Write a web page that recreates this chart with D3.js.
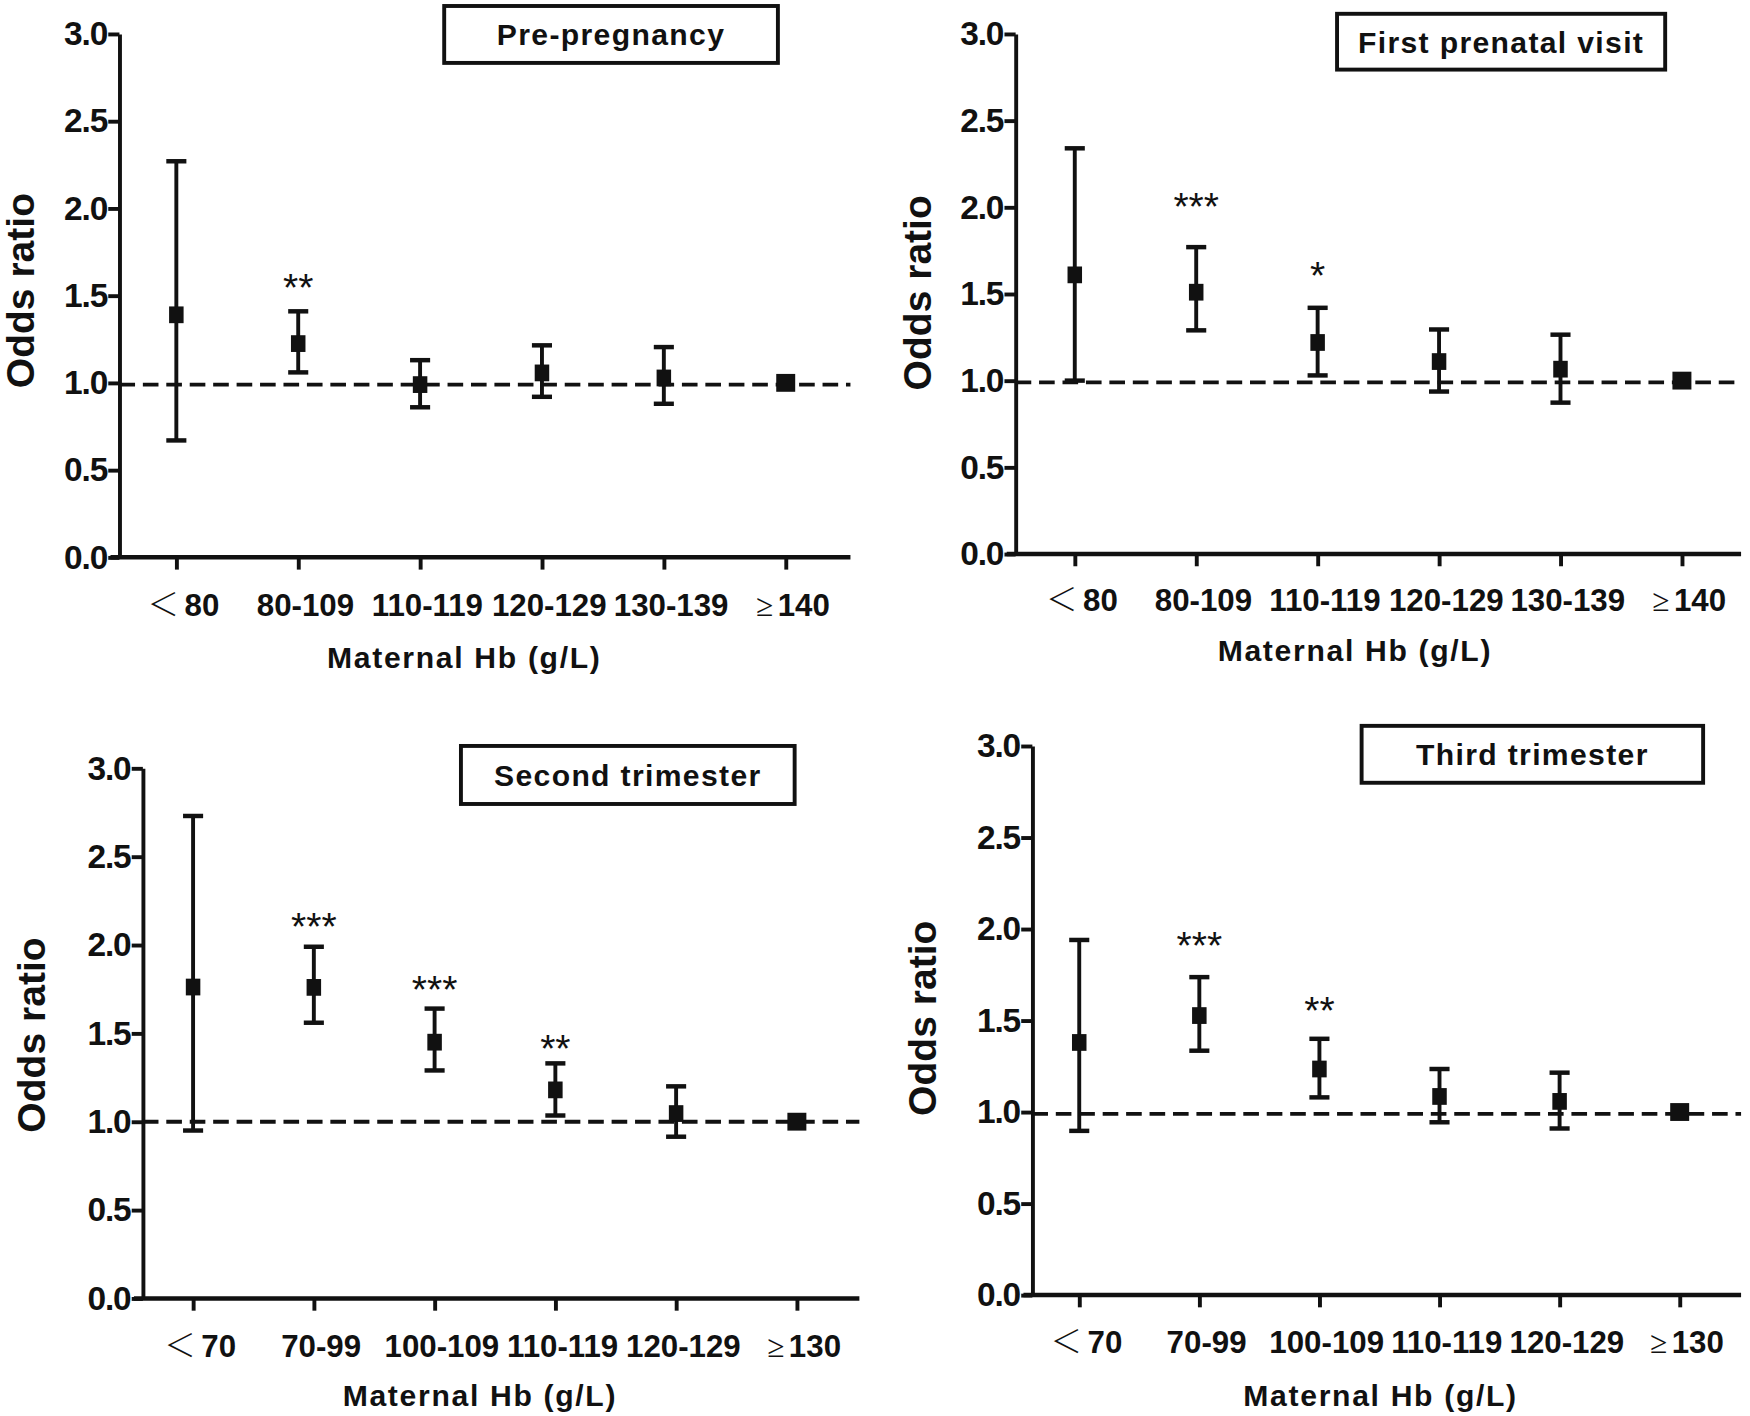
<!DOCTYPE html>
<html>
<head>
<meta charset="utf-8">
<script src="https://cdn.jsdelivr.net/npm/d3@7"></script>
<style>
  body { margin: 0; background: #fff; }
  svg { display: block; }
  text { font-family: "Liberation Sans", Arial, sans-serif; fill: #111; }
</style>
</head>
<body>
<svg id="chart" width="1750" height="1416" viewBox="0 0 1568 1268"></svg>
<script>
// categories
var catsEarly = ["＜80", "80-109", "110-119", "120-129", "130-139", "≥140"];
var catsLate = ["＜70", "70-99", "100-109", "110-119", "120-129", "≥130"];
var yTicks = [0, 0.5, 1.0, 1.5, 2.0, 2.5, 3.0];

// Pre-pregnancy
var prePoint = [1.39, 1.225, 0.99, 1.057, 1.028, 1.0];
var preLow   = [0.67, 1.06, 0.86, 0.92, 0.88, null];
var preHigh  = [2.27, 1.41, 1.13, 1.215, 1.205, null];
var preStars = ["", "**", "", "", "", ""];
var preStarY = [0, 1.59, 0, 0, 0, 0];

// First prenatal visit
var firstPoint = [1.61, 1.51, 1.22, 1.11, 1.066, 1.0];
var firstLow   = [1.0, 1.29, 1.03, 0.937, 0.873, null];
var firstHigh  = [2.34, 1.77, 1.42, 1.295, 1.265, null];
var firstStars = ["", "***", "*", "", "", ""];
var firstStarY = [0, 2.05, 1.65, 0, 0, 0];

// Second trimester
var secondPoint = [1.762, 1.76, 1.45, 1.18, 1.046, 1.0];
var secondLow   = [0.95, 1.56, 1.29, 1.035, 0.915, null];
var secondHigh  = [2.73, 1.99, 1.64, 1.33, 1.20, null];
var secondStars = ["", "***", "***", "**", "", ""];
var secondStarY = [0, 2.15, 1.79, 1.455, 0, 0];

// Third trimester
var thirdPoint = [1.38, 1.527, 1.235, 1.085, 1.058, 1.0];
var thirdLow   = [0.897, 1.335, 1.08, 0.944, 0.91, null];
var thirdHigh  = [1.94, 1.737, 1.40, 1.235, 1.215, null];
var thirdStars = ["", "***", "**", "", "", ""];
var thirdStarY = [0, 1.95, 1.595, 0, 0, 0];

var titles = ["Pre-pregnancy", "First prenatal visit", "Second trimester", "Third trimester"];
var refLevel = [0.99, 0.99, 1.0, 0.99];

var panels = [
  { title: titles[0], cats: catsEarly, point: prePoint, low: preLow, high: preHigh, stars: preStars, starY: preStarY, ref: refLevel[0],
    left: 107, right: 762, top: 30, bottom: 499, x0: 158, x1: 704,
    box: [398, 5, 299, 51], labelY: 543, xTitleX: 416, xTitleY: 588, yTitleX: 18, yTitleY: 260 },
  { title: titles[1], cats: catsEarly, point: firstPoint, low: firstLow, high: firstHigh, stars: firstStars, starY: firstStarY, ref: refLevel[1],
    left: 910, right: 1560, top: 30, bottom: 496, x0: 963, x1: 1507,
    box: [1198, 12, 294, 50], labelY: 538, xTitleX: 1214, xTitleY: 582, yTitleX: 822, yTitleY: 262 },
  { title: titles[2], cats: catsLate, point: secondPoint, low: secondLow, high: secondHigh, stars: secondStars, starY: secondStarY, ref: refLevel[2],
    left: 128, right: 770, top: 688, bottom: 1163, x0: 173, x1: 714,
    box: [413, 668, 299, 52], labelY: 1207, xTitleX: 430, xTitleY: 1250, yTitleX: 28, yTitleY: 927 },
  { title: titles[3], cats: catsLate, point: thirdPoint, low: thirdLow, high: thirdHigh, stars: thirdStars, starY: thirdStarY, ref: refLevel[3],
    left: 925, right: 1560, top: 668, bottom: 1160, x0: 967, x1: 1505,
    box: [1220, 650, 306, 51], labelY: 1203, xTitleX: 1237, xTitleY: 1250, yTitleX: 826, yTitleY: 912 }
];

var svg = d3.select("#chart");

panels.forEach(function(p) {
  var g = svg.append("g");

  var x = d3.scalePoint().domain(p.cats).range([p.x0, p.x1]);
  var y = d3.scaleLinear().domain([0, 3]).range([p.bottom, p.top]);

  var rows = p.cats.map(function(c, i) {
    return { cat: c, or: p.point[i], lo: p.low[i], hi: p.high[i], star: p.stars[i], starY: p.starY[i], ref: p.low[i] === null };
  });

  // y axis
  var ya = g.append("g")
    .attr("transform", "translate(" + p.left + ",0)")
    .call(d3.axisLeft(y).tickValues(yTicks).tickFormat(d3.format(".1f")).tickSize(10).tickSizeOuter(0).tickPadding(1));
  ya.select(".domain").attr("stroke", "#111").attr("stroke-width", 3.5);
  ya.selectAll(".tick line").attr("stroke", "#111").attr("stroke-width", 3.5);
  ya.selectAll(".tick text")
    .style("font-size", "30px").style("font-weight", "bold").style("letter-spacing", "-1px").attr("fill", "#111");

  // x axis
  var xa = g.append("g")
    .attr("transform", "translate(0," + p.bottom + ")")
    .call(d3.axisBottom(x).tickSize(11).tickSizeOuter(0));
  xa.select(".domain").remove();
  xa.selectAll(".tick line").attr("stroke", "#111").attr("stroke-width", 3.5);
  xa.selectAll(".tick text")
    .attr("y", p.labelY - p.bottom - 11)
    .attr("dx", 6)
    .style("font-size", "28px").style("font-weight", "bold").attr("fill", "#111")
    .each(function(d) {
      // comparison signs are thin and set apart from the number, as in the original
      var sign = d.charAt(0);
      if (sign === "＜" || sign === "≥") {
        var t = d3.select(this).text("");
        t.append("tspan")
          .style("font-family", sign === "＜" ? "'Noto Sans CJK SC'" : "'DejaVu Sans'")
          .style("font-weight", "300")
          .text(sign);
        t.append("tspan").attr("dx", sign === "＜" ? 5 : 4).text(d.slice(1));
      }
    });
  g.append("line")
    .attr("x1", p.left - 8).attr("x2", p.right)
    .attr("y1", p.bottom).attr("y2", p.bottom)
    .attr("stroke", "#111").attr("stroke-width", 4);

  // reference line
  g.append("line")
    .attr("x1", p.left).attr("x2", p.right)
    .attr("y1", y(p.ref)).attr("y2", y(p.ref))
    .attr("stroke", "#111").attr("stroke-width", 3.5)
    .attr("stroke-dasharray", "14,7");

  // error bars
  var bars = rows.filter(function(d) { return !d.ref; });
  g.selectAll(".whisker").data(bars).enter().append("line")
    .attr("x1", function(d) { return x(d.cat); })
    .attr("x2", function(d) { return x(d.cat); })
    .attr("y1", function(d) { return y(d.lo); })
    .attr("y2", function(d) { return y(d.hi); })
    .attr("stroke", "#111").attr("stroke-width", 3.5);
  ["lo", "hi"].forEach(function(k) {
    g.selectAll(".cap-" + k).data(bars).enter().append("line")
      .attr("x1", function(d) { return x(d.cat) - 9; })
      .attr("x2", function(d) { return x(d.cat) + 9; })
      .attr("y1", function(d) { return y(d[k]); })
      .attr("y2", function(d) { return y(d[k]); })
      .attr("stroke", "#111").attr("stroke-width", 4);
  });

  // markers
  g.selectAll(".pt").data(rows).enter().append("rect")
    .attr("x", function(d) { return x(d.cat) - (d.ref ? 8.5 : 6.5); })
    .attr("y", function(d) { return y(d.or) - (d.ref ? 8 : 7.5); })
    .attr("width", function(d) { return d.ref ? 17 : 13; })
    .attr("height", function(d) { return d.ref ? 16 : 15; })
    .attr("fill", "#111");

  // significance stars
  g.selectAll(".star").data(rows.filter(function(d) { return d.star; })).enter().append("text")
    .attr("x", function(d) { return x(d.cat); })
    .attr("y", function(d) { return y(d.starY) + 19; })
    .attr("text-anchor", "middle")
    .style("font-size", "35px")
    .text(function(d) { return d.star; });

  // title box
  g.append("rect")
    .attr("x", p.box[0]).attr("y", p.box[1])
    .attr("width", p.box[2]).attr("height", p.box[3])
    .attr("fill", "#fff").attr("stroke", "#111").attr("stroke-width", 3.5);
  g.append("text")
    .attr("x", p.box[0] + p.box[2] / 2).attr("y", p.box[1] + p.box[3] / 2)
    .attr("dy", "0.36em")
    .attr("text-anchor", "middle")
    .style("font-size", "27px").style("font-weight", "bold").style("letter-spacing", "1.2px")
    .text(p.title);

  // axis titles
  g.append("text")
    .attr("x", p.xTitleX).attr("y", p.xTitleY)
    .attr("dy", "0.36em")
    .attr("text-anchor", "middle")
    .style("font-size", "27px").style("font-weight", "bold").style("letter-spacing", "1.5px")
    .text("Maternal Hb (g/L)");
  g.append("text")
    .attr("transform", "translate(" + p.yTitleX + "," + p.yTitleY + ") rotate(-90)")
    .attr("dy", "0.36em")
    .attr("text-anchor", "middle")
    .style("font-size", "35px").style("font-weight", "bold")
    .text("Odds ratio");
});
</script>
</body>
</html>
